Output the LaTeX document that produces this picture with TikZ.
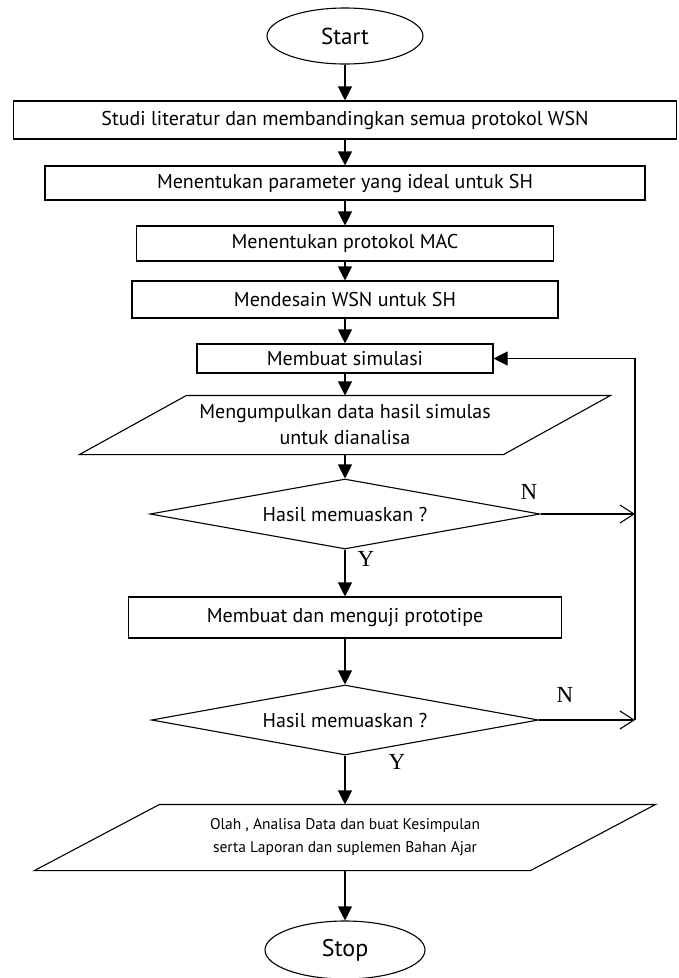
\documentclass[tikz,border=0pt]{standalone}
\usepackage{fontspec}
\setmainfont{PT Sans}
\newfontfamily\ynfont{Liberation Serif}
\usetikzlibrary{arrows.meta,shapes.geometric}
\begin{document}
\begin{tikzpicture}[x=1pt,y=-1pt,line width=1.1pt,
  box/.style={draw,rectangle,inner sep=0pt,font=\fontsize{20}{24}\selectfont},
  term/.style={draw,ellipse,inner sep=0pt},
  decide/.style={draw,diamond,aspect=5.6,inner sep=0pt,minimum width=390pt,minimum height=70pt,font=\fontsize{20}{23}\selectfont},
  flow/.style={-{Triangle[width=14pt,length=14pt]}},
  nflow/.style={-{Straight Barb[width=18pt,length=14pt]}},
  yn/.style={font=\ynfont\fontsize{23}{23}\selectfont}]
\useasboundingbox (0,0) rectangle (678,978);
\node[term,minimum width=156pt,minimum height=56pt,font=\fontsize{23}{23}\selectfont] (start) at (345,36) {Start};
\node[box,minimum width=663pt,minimum height=38pt] (lit) at (345,120) {Studi literatur dan membandingkan semua protokol WSN};
\node[box,minimum width=600pt,minimum height=34pt] (param) at (345,183) {Menentukan parameter yang ideal untuk SH};
\node[box,minimum width=417pt,minimum height=35pt] (mac) at (345,243.5) {Menentukan protokol MAC};
\node[box,minimum width=426pt,minimum height=37pt] (desain) at (345,299.5) {Mendesain WSN untuk SH};
\node[box,minimum width=296pt,minimum height=29pt] (sim) at (345,358.5) {Membuat simulasi};
\node[minimum width=423pt,minimum height=58pt,inner sep=0pt,align=center,font=\fontsize{20}{26}\selectfont] (data) at (345,425) {Mengumpulkan data hasil simulas\\untuk dianalisa};
\draw ([xshift=53.5pt]data.north west) -- ([xshift=53.5pt]data.north east) -- ([xshift=-53.5pt]data.south east) -- ([xshift=-53.5pt]data.south west) -- cycle;
\node[decide] (cek1) at (345,514) {Hasil memuaskan ?};
\node[box,minimum width=433pt,minimum height=41pt] (proto) at (345,617.5) {Membuat dan menguji prototipe};
\node[decide,minimum width=387pt] (cek2) at (345,720) {Hasil memuaskan ?};
\node[minimum width=495pt,minimum height=65pt,inner sep=0pt,align=center,font=\fontsize{15.5}{23}\selectfont] (olah) at (345,837.5) {Olah , Analisa Data dan buat Kesimpulan\\serta Laporan dan suplemen Bahan Ajar};
\draw ([xshift=62.5pt]olah.north west) -- ([xshift=62.5pt]olah.north east) -- ([xshift=-62.5pt]olah.south east) -- ([xshift=-62.5pt]olah.south west) -- cycle;
\node[term,minimum width=160pt,minimum height=58pt,font=\fontsize{24}{24}\selectfont] (stop) at (345,950) {Stop};
\foreach \a/\b in {start/lit,lit/param,param/mac,mac/desain,desain/sim,sim/data,data/cek1,cek1/proto,proto/cek2,cek2/olah,olah/stop}
  \draw[flow] (\a) -- (\b);
\coordinate (back) at (635,358.5);
\draw[nflow] (cek1.east) -- (cek1.east -| back);
\draw[nflow] (cek2.east) -- (cek2.east -| back);
\draw[flow] (cek2.east -| back) -- (back) -- (sim.east);
\node[yn] (n1) at (529,492) {N};
\node[yn] (y1) at (366,559) {Y};
\node[yn] (n2) at (565,695) {N};
\node[yn] (y2) at (397,762) {Y};
\end{tikzpicture}
\end{document}
